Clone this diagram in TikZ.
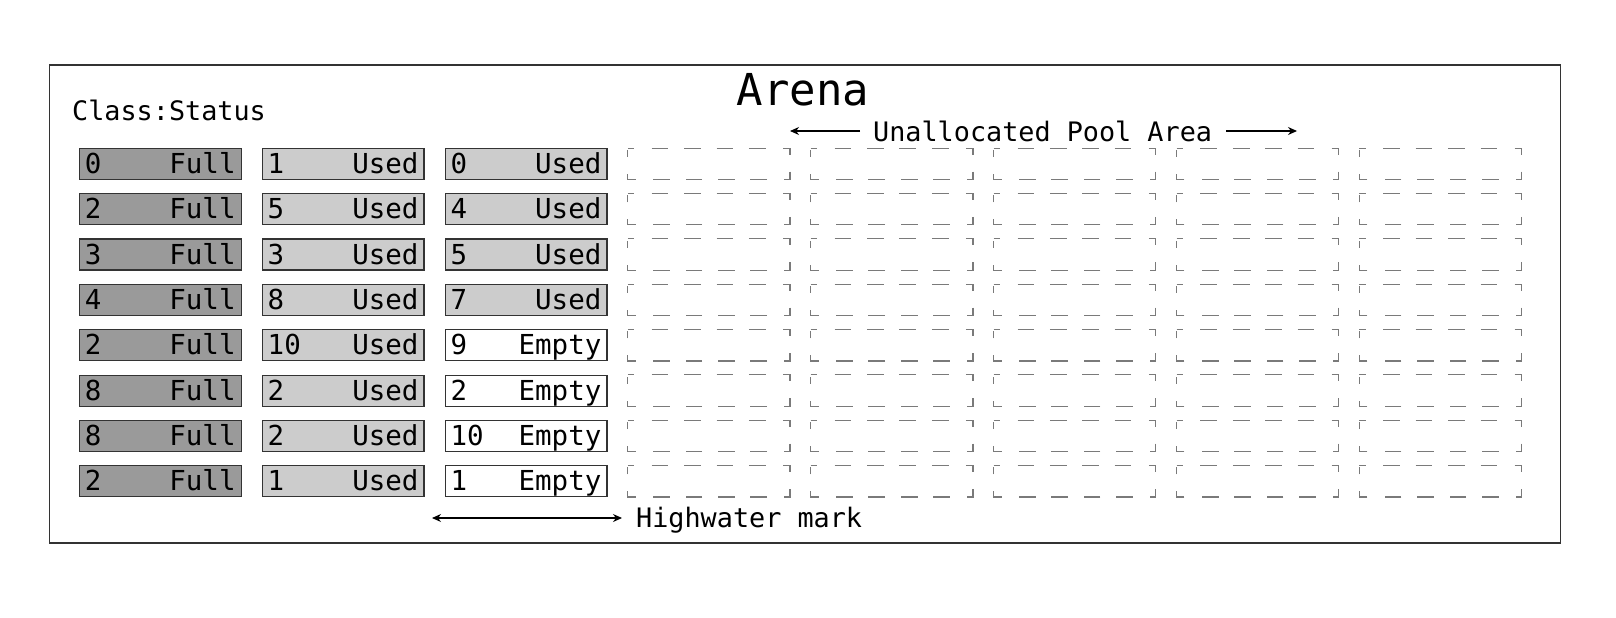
\documentclass[tikz,border=0pt]{standalone}
\usepackage{fontspec}
\setmonofont{DejaVu Sans Mono}
\usetikzlibrary{arrows.meta}
\definecolor{fullgray}{HTML}{9A9A9A}
\definecolor{usedgray}{HTML}{CCCCCC}
\definecolor{edgegray}{HTML}{333333}
\definecolor{poolgray}{HTML}{7A7A7A}
\tikzset{
  slot/.style={draw=edgegray, line width=1.2pt, text width=150.8pt, inner xsep=5.5pt, inner ysep=2pt,
    text height=23pt, text depth=4pt, font=\ttfamily\fontsize{27.5}{30}\selectfont},
  fullslot/.style={slot, fill=fullgray},
  usedslot/.style={slot, fill=usedgray},
  emptyslot/.style={slot, fill=white},
  poolslot/.style={minimum width=161.8pt, minimum height=31pt, inner sep=0pt},
  pooldash/.style={draw=poolgray, line width=1.2pt,
    dash pattern=on 6.5pt off 17.4pt on 16.7pt off 15.7pt on 16.7pt off 15.7pt on 16.7pt off 15.7pt on 16.7pt off 17.4pt
      on 13.5pt off 17pt on 13.5pt off 17.4pt on 16.7pt off 15.7pt on 16.7pt off 15.7pt on 16.7pt off 15.7pt on 16.7pt off 17.4pt
      on 13.5pt off 17pt on 7pt},
  caption/.style={inner sep=0pt, font=\ttfamily\fontsize{26.8}{30}\selectfont},
  arr/.style={line width=1.2pt, -{Stealth[length=9pt,width=8pt]}},
}
\begin{document}
\begin{tikzpicture}[x=1pt,y=-1pt]
  \useasboundingbox (0,0) rectangle (1616,618);
  \draw[edgegray, line width=1.6pt] (49.5,65) rectangle (1560.5,543);
  \node[caption, font=\ttfamily\fontsize{44}{50}\selectfont, anchor=base] (arena) at (803,105) {Arena};
  \node[caption, anchor=base west] (classhead) at (72,120.6) {Class:Status};
  \node[caption, anchor=base west] (unalloc) at (873,141) {Unallocated Pool Area};
  \node[caption, anchor=base west] (highwater) at (636,527) {Highwater mark};
  \path
  (160.2,163.8) node[fullslot] (s11) {0\hfill Full} (343.1,163.8) node[usedslot] (s12) {1\hfill Used} (526,163.8) node[usedslot] (s13) {0\hfill Used}
  (160.2,209.2) node[fullslot] (s21) {2\hfill Full} (343.1,209.2) node[usedslot] (s22) {5\hfill Used} (526,209.2) node[usedslot] (s23) {4\hfill Used}
  (160.2,254.5) node[fullslot] (s31) {3\hfill Full} (343.1,254.5) node[usedslot] (s32) {3\hfill Used} (526,254.5) node[usedslot] (s33) {5\hfill Used}
  (160.2,299.9) node[fullslot] (s41) {4\hfill Full} (343.1,299.9) node[usedslot] (s42) {8\hfill Used} (526,299.9) node[usedslot] (s43) {7\hfill Used}
  (160.2,345.2) node[fullslot] (s51) {2\hfill Full} (343.1,345.2) node[usedslot] (s52) {10\hfill Used} (526,345.2) node[emptyslot] (s53) {9\hfill Empty}
  (160.2,390.6) node[fullslot] (s61) {8\hfill Full} (343.1,390.6) node[usedslot] (s62) {2\hfill Used} (526,390.6) node[emptyslot] (s63) {2\hfill Empty}
  (160.2,435.9) node[fullslot] (s71) {8\hfill Full} (343.1,435.9) node[usedslot] (s72) {2\hfill Used} (526,435.9) node[emptyslot] (s73) {10\hfill Empty}
  (160.2,481.3) node[fullslot] (s81) {2\hfill Full} (343.1,481.3) node[usedslot] (s82) {1\hfill Used} (526,481.3) node[emptyslot] (s83) {1\hfill Empty}
  ;
  \foreach \c in {3,...,7}
    \foreach \r in {0,...,7} {
      \node[poolslot] (p\r\c) at ({160.2+182.9*\c},{163.8+45.35*\r}) {};
      \draw[pooldash] (p\r\c.north west) -- (p\r\c.north east) -- (p\r\c.south east) -- (p\r\c.south west) -- cycle;
    }
  \coordinate (unallocL) at (790,131);
  \coordinate (unallocLs) at (860,131);
  \coordinate (unallocRs) at (1226,131);
  \coordinate (unallocR) at (1297,131);
  \draw[arr] (unallocLs) -- (unallocL);
  \draw[arr] (unallocRs) -- (unallocR);
  \coordinate (highL) at (432,518);
  \coordinate (highR) at (622,518);
  \draw[arr, {Stealth[length=9pt,width=8pt]}-{Stealth[length=9pt,width=8pt]}] (highL) -- (highR);
\end{tikzpicture}
\end{document}
